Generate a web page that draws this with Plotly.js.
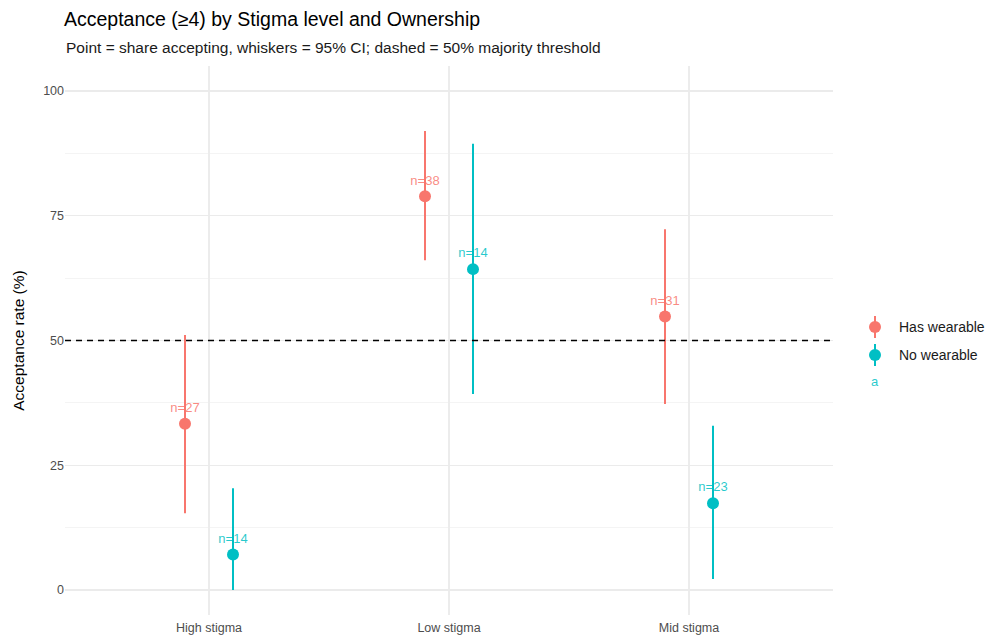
<!DOCTYPE html>
<html>
<head>
<meta charset="utf-8">
<script src="https://cdn.plot.ly/plotly-3.0.1.min.js"></script>
<style>html,body{margin:0;padding:0;background:#fff;}</style>
</head>
<body>
<div id="chart" style="width:989px;height:640px;"></div>
<script>
const categories = ["High stigma", "Low stigma", "Mid stigma"];
const groups = ["Has wearable", "No wearable"];
const colors = ["#F8766D", "#00BFC4"];
const labelColors = ["rgba(248,118,109,0.85)", "rgba(0,191,196,0.85)"];
const hasRate = [33.3, 78.9, 54.8];
const hasLow = [15.4, 66.1, 37.3];
const hasHigh = [51.1, 92.0, 72.3];
const hasN = [27, 38, 31];
const noRate = [7.1, 64.3, 17.4];
const noLow = [0.0, 39.3, 2.2];
const noHigh = [20.4, 89.4, 32.9];
const noN = [14, 14, 23];
const threshold = 50;
const yTicks = [0, 25, 50, 75, 100];

const seriesData = [
  {rate: hasRate, low: hasLow, high: hasHigh, n: hasN},
  {rate: noRate, low: noLow, high: noHigh, n: noN}
];

const font = "Liberation Sans, Arial, sans-serif";
const traces = seriesData.map((s, i) => ({
  type: "scatter",
  mode: "markers+text",
  name: groups[i],
  x: categories,
  y: s.rate,
  offsetgroup: String(i),
  text: s.n.map(v => "n=" + v),
  textposition: "top center",
  textfont: {family: font, size: 13, color: labelColors[i]},
  marker: {color: colors[i], size: 12},
  error_y: {
    type: "data", symmetric: false,
    array: s.high.map((h, k) => h - s.rate[k]),
    arrayminus: s.rate.map((r, k) => r - s.low[k]),
    color: colors[i], thickness: 2, width: 0
  },
  showlegend: false,
  cliponaxis: false
}));

const legY = [0.5246, 0.4736];
const shapes = [
  {type: "line", xref: "paper", yref: "y", x0: 0, x1: 1, y0: threshold, y1: threshold,
   line: {color: "#000", width: 1.5, dash: "6px,5px"}, layer: "above"}
];
const annotations = [
  {text: "Point = share accepting, whiskers = 95% CI; dashed = 50% majority threshold",
   xref: "paper", yref: "paper", x: -0.001, y: 1.0, yshift: 19, xanchor: "left", yanchor: "middle",
   showarrow: false, font: {family: font, size: 15.5, color: "#1a1a1a"}}
];
groups.forEach((g, i) => {
  shapes.push({type: "line", xref: "paper", yref: "paper", xsizemode: "pixel", ysizemode: "pixel",
    xanchor: 1.0547, yanchor: legY[i], x0: 0, x1: 0, y0: -11, y1: 11,
    line: {color: colors[i], width: 2}});
  shapes.push({type: "circle", xref: "paper", yref: "paper", xsizemode: "pixel", ysizemode: "pixel",
    xanchor: 1.0547, yanchor: legY[i], x0: -6, x1: 6, y0: -6, y1: 6,
    fillcolor: colors[i], line: {color: colors[i], width: 0}});
  annotations.push({text: g, xref: "paper", yref: "paper", x: 1.0547, xshift: 22, y: legY[i],
    xanchor: "left", yanchor: "middle", showarrow: false,
    font: {family: font, size: 14, color: "#1a1a1a"}});
});
annotations.push({text: "a", xref: "paper", yref: "paper", x: 1.0547, y: 0.426,
  xanchor: "center", yanchor: "middle", showarrow: false,
  font: {family: font, size: 13, color: labelColors[1]}});

const layout = {
  width: 989, height: 640,
  paper_bgcolor: "#fff", plot_bgcolor: "#fff",
  margin: {l: 65, r: 156, t: 66, b: 25},
  scattermode: "group", scattergap: 0.6,
  font: {family: font},
  title: {text: "Acceptance (\u22654) by Stigma level and Ownership",
    x: 64 / 989, xanchor: "left", y: 0.97, yanchor: "middle",
    font: {family: font, size: 19.5, color: "#000"}},
  xaxis: {type: "category", range: [-0.6, 2.6], showgrid: true, gridcolor: "#ececec", gridwidth: 1.2,
    zeroline: false, showline: false, ticks: "", ticklabelstandoff: 3,
    tickfont: {family: font, size: 12.5, color: "#4d4d4d"}, fixedrange: true},
  yaxis: {range: [-5, 105], tickvals: yTicks, ticktext: yTicks.map(String),
    showgrid: true, gridcolor: "#ebebeb", gridwidth: 1.2, zeroline: false, showline: false, ticks: "",
    minor: {tickvals: [12.5, 37.5, 62.5, 87.5], showgrid: true, gridcolor: "#f4f4f4", gridwidth: 1},
    tickfont: {family: font, size: 12.5, color: "#4d4d4d"},
    title: {text: "Acceptance rate (%)", font: {family: font, size: 15.5, color: "#000"}, standoff: 14}},
  shapes: shapes,
  annotations: annotations,
  showlegend: false
};

Plotly.newPlot("chart", traces, layout, {displayModeBar: false, staticPlot: true});
</script>
</body>
</html>
